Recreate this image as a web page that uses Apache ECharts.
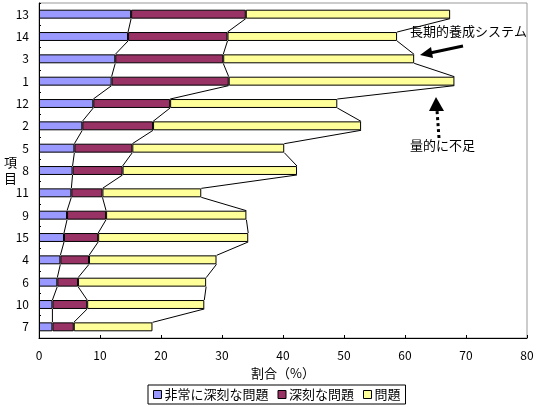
<!DOCTYPE html>
<html>
<head>
<meta charset="utf-8">
<script src="https://cdn.jsdelivr.net/npm/echarts@6/dist/echarts.min.js"></script>
<style>
  html, body { margin: 0; padding: 0; background: #fff; }
  #chart { width: 539px; height: 407px; }
</style>
</head>
<body>
<div id="chart"></div>
<script>
// 項目 (top to bottom)
var items = ['13', '14', '3', '1', '12', '2', '5', '8', '11', '9', '15', '4', '6', '10', '7'];
// 割合(%)
var verySerious = [15.1, 14.6, 12.5, 11.9, 8.9, 7.1, 5.8, 5.5, 5.3, 4.6, 4.1, 3.5, 3.0, 2.2, 2.2];
var serious     = [18.8, 16.3, 17.7, 19.2, 12.6, 11.6, 9.5, 8.2, 5.1, 6.4, 5.6, 4.7, 3.4, 5.7, 3.5];
var problem     = [33.5, 27.8, 31.3, 37.0, 27.4, 34.1, 24.9, 28.6, 16.2, 23.0, 24.6, 20.9, 21.0, 19.2, 12.9];
var xTicks = [0, 10, 20, 30, 40, 50, 60, 70, 80];

var FONT = '"Noto Sans CJK JP", "Noto Sans", sans-serif';

// cumulative ends of each stack, used for the series lines
var end1 = [], end2 = [], end3 = [];
for (var i = 0; i < items.length; i++) {
  end1.push(verySerious[i]);
  end2.push(verySerious[i] + serious[i]);
  end3.push(verySerious[i] + serious[i] + problem[i]);
}
var linkData = [];
for (var i = 0; i < items.length - 1; i++) {
  linkData.push([i, end1[i], end1[i + 1], end2[i], end2[i + 1], end3[i], end3[i + 1]]);
}

var chart = echarts.init(document.getElementById('chart'));

var barStyle = function (color) {
  return { color: color, borderColor: '#000', borderWidth: 1 };
};

chart.setOption({
  animation: false,
  textStyle: { fontFamily: FONT },
  grid: {
    left: 39, right: 12, top: 3, bottom: 69,
    outerBoundsMode: 'none',
    containLabel: false,
    show: true, borderColor: '#999', borderWidth: 1, backgroundColor: '#fff'
  },
  legend: {
    data: ['非常に深刻な問題', '深刻な問題', '問題'],
    left: 148, top: 385,
    itemWidth: 8, itemHeight: 8, itemGap: 9,
    padding: [3, 5, 3, 5],
    borderColor: '#000', borderWidth: 1,
    icon: 'rect',
    itemStyle: { borderColor: '#000', borderWidth: 1 },
    textStyle: { fontFamily: FONT, fontSize: 13, color: '#000', padding: [0, 0, 0, -2] }
  },
  xAxis: {
    type: 'value',
    min: 0, max: 80, interval: 10,
    name: '割合（%）',
    nameLocation: 'middle',
    nameGap: 29,
    nameMoveOverlap: false,
    nameTextStyle: { fontFamily: FONT, fontSize: 13, color: '#000' },
    axisLine: { show: true, lineStyle: { color: '#000', width: 1 } },
    axisTick: { show: true, inside: true, length: 3, lineStyle: { color: '#000' } },
    axisLabel: {
      margin: 11, fontSize: 12, color: '#000', fontFamily: FONT,
      formatter: function (v) { return xTicks.indexOf(v) >= 0 ? String(v) : ''; }
    },
    splitLine: { show: false }
  },
  yAxis: {
    type: 'category',
    data: items,
    inverse: true,
    name: '項\n目',
    nameLocation: 'middle',
    nameGap: 22,
    nameRotate: 0,
    nameMoveOverlap: false,
    nameTextStyle: { fontFamily: FONT, fontSize: 13, color: '#000', lineHeight: 16 },
    axisLine: { show: true, lineStyle: { color: '#000', width: 1 } },
    axisTick: { show: true, inside: true, length: 2, lineStyle: { color: '#000' } },
    axisLabel: { margin: 10, fontSize: 12, color: '#000', fontFamily: FONT },
    splitLine: { show: false }
  },
  series: [
    {
      name: '非常に深刻な問題', type: 'bar', stack: 'total', barWidth: '40%',
      itemStyle: barStyle('#9999FF'), data: verySerious
    },
    {
      name: '深刻な問題', type: 'bar', stack: 'total', barWidth: '40%',
      itemStyle: barStyle('#993366'), data: serious
    },
    {
      name: '問題', type: 'bar', stack: 'total', barWidth: '40%',
      itemStyle: barStyle('#FFFF99'), data: problem
    },
    {
      // Excel style series lines between neighbouring bars
      name: 'links', type: 'custom', silent: true, z: 3,
      encode: { x: [1, 2, 3, 4, 5, 6], y: 0 },
      data: linkData,
      renderItem: function (params, api) {
        var idx = api.value(0);
        var half = api.size([0, 1])[1] * 0.2;
        var children = [];
        for (var k = 0; k < 3; k++) {
          var a = api.coord([api.value(1 + 2 * k), idx]);
          var b = api.coord([api.value(2 + 2 * k), idx + 1]);
          children.push({
            type: 'line',
            shape: { x1: a[0], y1: a[1] + half, x2: b[0], y2: b[1] - half },
            style: { stroke: '#000', lineWidth: 1 }
          });
        }
        return { type: 'group', children: children };
      }
    }
  ],
  graphic: [
    {
      type: 'text', left: 410, top: 25,
      style: { text: '長期的養成システム', fontFamily: FONT, fontSize: 13, fill: '#000' }
    },
    {
      type: 'line',
      shape: { x1: 463, y1: 46, x2: 430, y2: 53 },
      style: { stroke: '#000', lineWidth: 3 }
    },
    {
      type: 'polygon',
      shape: { points: [[420, 55], [433, 58], [431, 47]] },
      style: { fill: '#000' }
    },
    {
      type: 'text', left: 410, top: 139,
      style: { text: '量的に不足', fontFamily: FONT, fontSize: 13, fill: '#000' }
    },
    {
      type: 'line',
      shape: { x1: 439, y1: 138, x2: 437, y2: 110 },
      style: { stroke: '#000', lineWidth: 3, lineDash: [3, 3] }
    },
    {
      type: 'polygon',
      shape: { points: [[436, 97], [429, 111], [444, 111]] },
      style: { fill: '#000' }
    }
  ]
});
</script>
</body>
</html>
